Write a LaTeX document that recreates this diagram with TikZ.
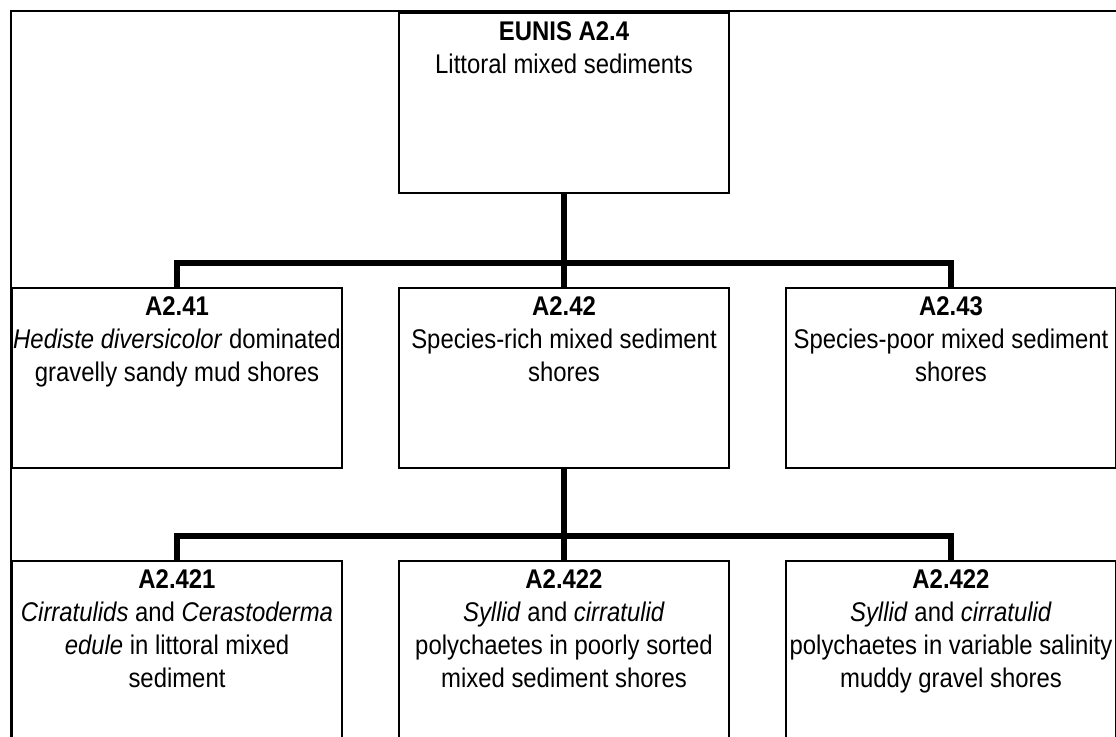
\documentclass[tikz,border=0pt]{standalone}
\usepackage{fontspec}
\setmainfont{Liberation Sans}[FakeStretch=0.885]
\usepackage{tikz}
\usetikzlibrary{calc,positioning}

\tikzset{
  habbox/.style={draw, line width=1pt, inner sep=0pt, outer sep=0pt, anchor=north},
  branch/.style={line width=2.8pt},
  frameline/.style={line width=1pt}
}
\newcommand{\habtext}[2]{%
  \begin{minipage}[t][90pt][t]{165pt}%
    \centering\fontsize{13.5}{16.5}\selectfont
    \rule{0pt}{14pt}\textbf{#1}\\#2
  \end{minipage}}

\begin{document}
\begin{tikzpicture}
  \clip (0,0) rectangle (558pt,-368.5pt);
  % page frame, cut off at the right and at the bottom
  \draw[frameline] (5.5pt,-380pt) -- (5.5pt,-5.5pt) -- (570pt,-5.5pt);

  % level 0
  \node[habbox] (a24) at (282pt,-6.5pt)
    {\habtext{EUNIS A2.4}{Littoral mixed sediments}};

  % level 1
  \node[habbox, below=47.5pt of a24] (a242)
    {\habtext{A2.42}{Species-rich mixed sediment\\shores}};
  \node[habbox, left=28.5pt of a242] (a241)
    {\habtext{A2.41}{\textit{Hediste diversicolor} dominated\\gravelly sandy mud shores}};
  \node[habbox, right=28.5pt of a242] (a243)
    {\habtext{A2.43}{Species-poor mixed sediment\\shores}};

  % level 2
  \node[habbox, below=46.5pt of a242] (a2422)
    {\habtext{A2.422}{\textit{Syllid} and \textit{cirratulid}\\polychaetes in poorly sorted\\mixed sediment shores}};
  \node[habbox, left=28.5pt of a2422] (a2421)
    {\habtext{A2.421}{\textit{Cirratulids} and \textit{Cerastoderma}\\\textit{edule} in littoral mixed\\sediment}};
  \node[habbox, right=28.5pt of a2422] (a2422v)
    {\habtext{A2.422}{\textit{Syllid} and \textit{cirratulid}\\polychaetes in variable salinity\\muddy gravel shores}};

  % branches
  \coordinate (j1) at ($(a242.north)+(0,12.5pt)$);
  \coordinate (j2) at ($(a2422.north)+(0,12.5pt)$);
  \draw[branch] (a24.south) -- (j1);
  \draw[branch] (a241.north) |- (j1) -| (a243.north);
  \draw[branch] (j1) -- (a242.north);
  \draw[branch] (a242.south) -- (j2);
  \draw[branch] (a2421.north) |- (j2) -| (a2422v.north);
  \draw[branch] (j2) -- (a2422.north);
\end{tikzpicture}
\end{document}
